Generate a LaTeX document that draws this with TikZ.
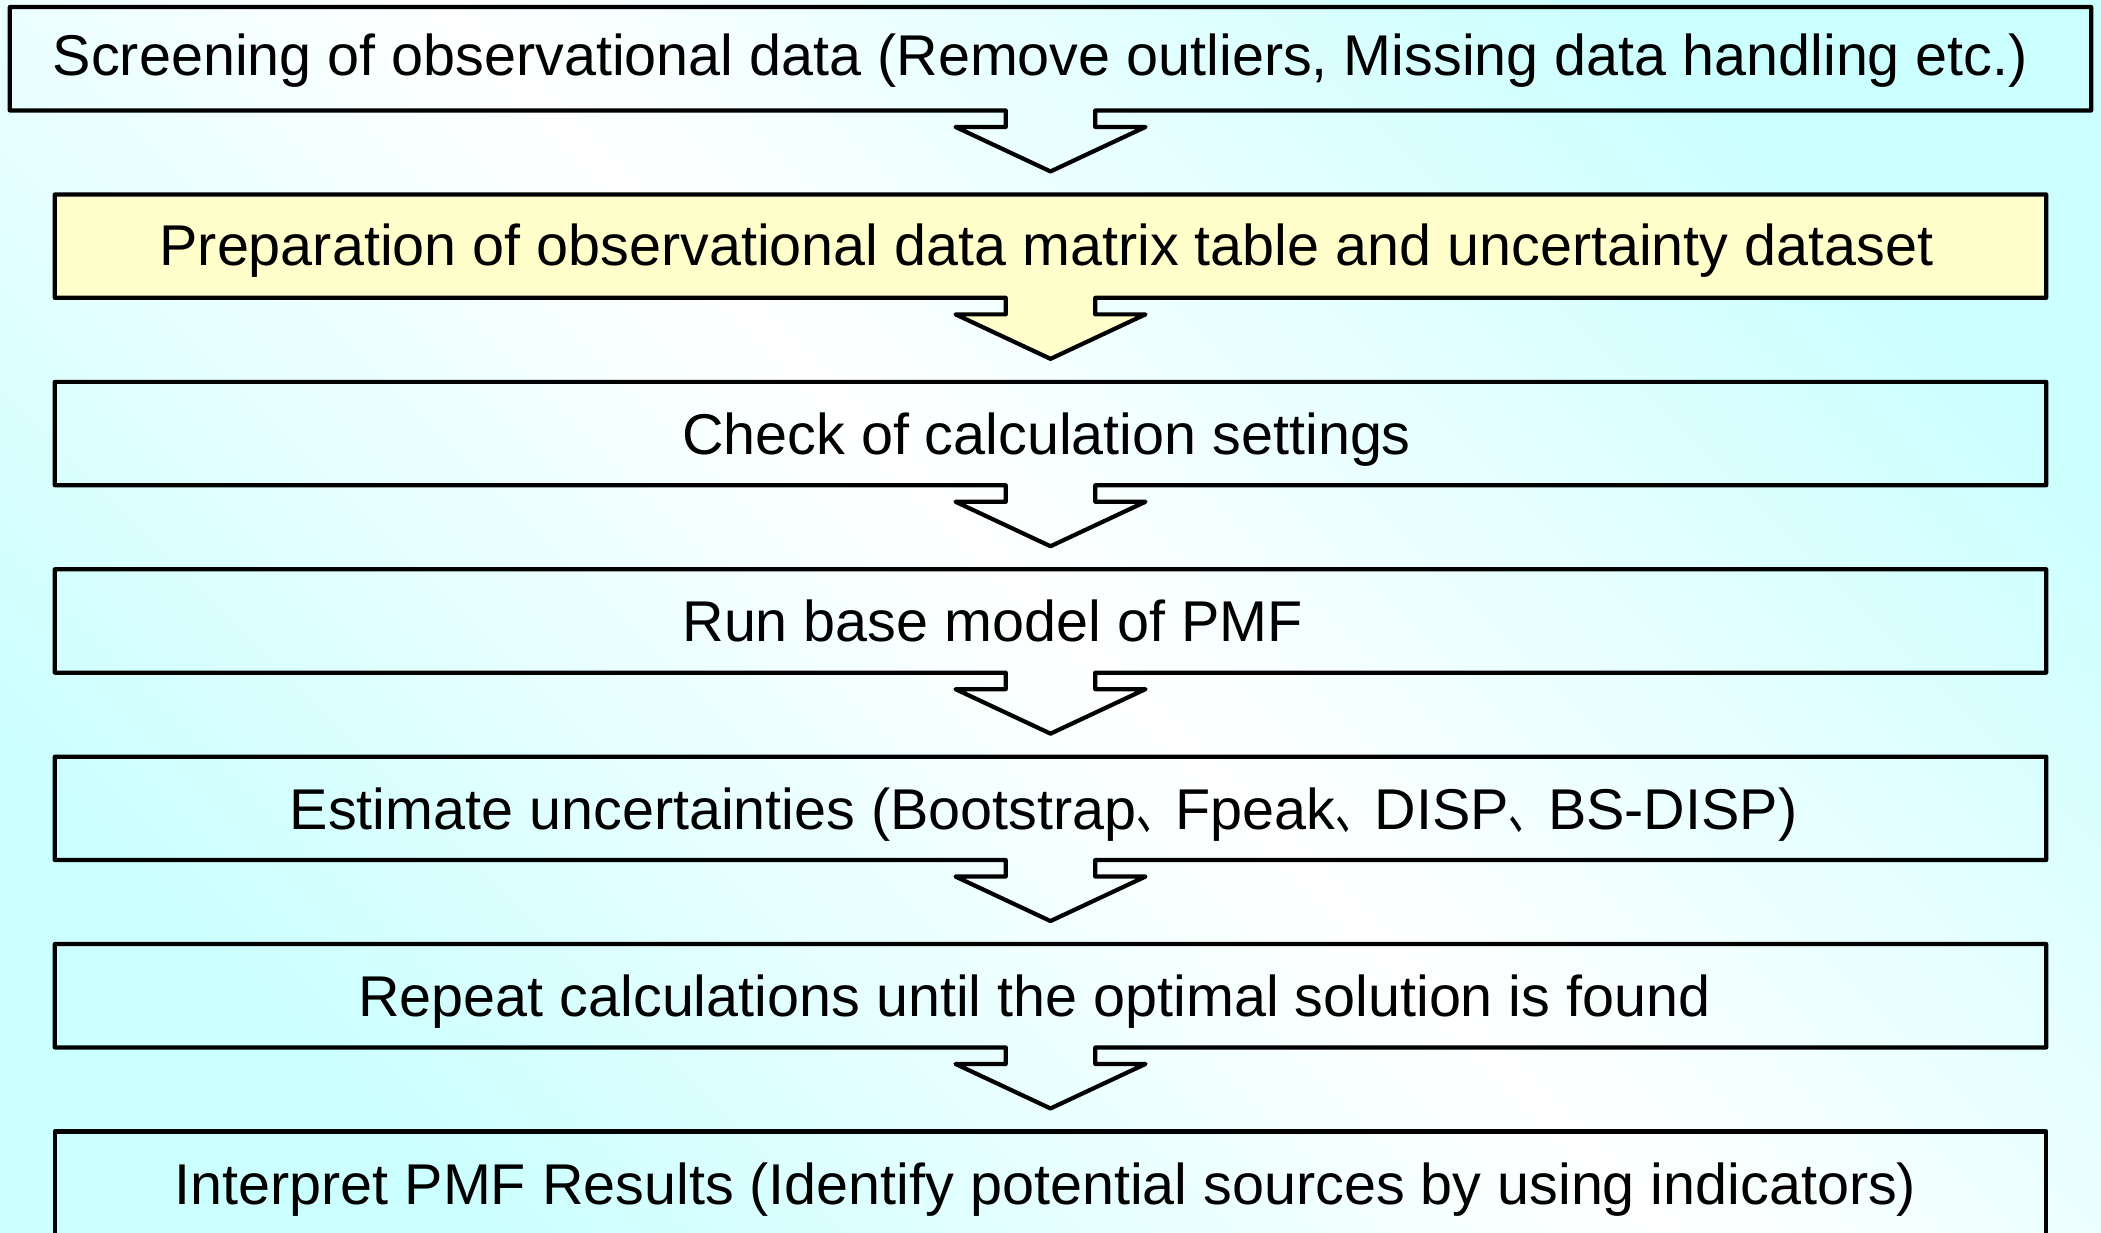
\documentclass[tikz,border=0pt]{standalone}
\usepackage{fontspec}
\usepackage{graphicx}
\setmainfont{Liberation Sans}
\newfontfamily\jpfont{Noto Sans CJK JP}
\usetikzlibrary{positioning,calc,backgrounds}
\definecolor{sky}{HTML}{CCFFFF}
\definecolor{cream}{HTML}{FFFFCC}

\begin{document}
\begin{tikzpicture}[font=\fontsize{57.5}{69}\selectfont,node distance=84pt,
   stepbox/.style={minimum width=1991pt,minimum height=103pt,inner sep=0pt},
   steptext/.style={inner sep=0pt,text height=42pt,text depth=0pt},
   callout/.style={draw=black,line width=4.2pt,line join=round}]
  \useasboundingbox (0,0) rectangle (2101pt,-1233pt);
  \node[stepbox,minimum width=2081pt] (scr) at (1050.5pt,-58.75pt) {};
  \node[stepbox,below=of scr] (prep) {};
  \node[stepbox,below=of prep] (chk) {};
  \node[stepbox,below=of chk] (run) {};
  \node[stepbox,below=of run] (unc) {};
  \node[stepbox,below=of unc] (rep) {};
  \node[stepbox,below=of rep] (res) {};
  \node[steptext,xshift=-10pt,yshift=4pt] (scrtxt) at (scr) {Screening of observational data (Remove outliers, Missing data handling etc.)};
  \node[steptext,xshift=-4pt,yshift=2pt] (preptxt) at (prep) {Preparation of observational data matrix table and uncertainty dataset};
  \node[steptext,xshift=-4pt] (chktxt) at (chk) {Check of calculation settings};
  \node[steptext,xshift=-58pt] (runtxt) at (run) {Run base model of PMF};
  \node[steptext,xshift=-7pt] (unctxt) at (unc) {Estimate uncertainties (Bootstrap\scalebox{0.68}[1]{\jpfont 、}Fpeak\scalebox{0.68}[1]{\jpfont 、}DISP\scalebox{0.68}[1]{\jpfont 、}BS-DISP)};
  \node[steptext,xshift=-16pt] (reptxt) at (rep) {Repeat calculations until the optimal solution is found};
  \node[steptext,xshift=-5pt] (restxt) at (res) {Interpret PMF Results (Identify potential sources by using indicators)};
  \begin{scope}[on background layer]
    \shade[top color=sky,bottom color=sky,middle color=white,shading angle=-45] (0,0) rectangle (2101pt,-1233pt);
    % box with its down arrow, tip just above the next box
    \foreach \a/\b/\c in {scr/prep/none,prep/chk/cream,chk/run/none,run/unc/none,unc/rep/none,rep/res/none}
      \draw[callout,fill=\c] (\a.south west) -- (\a.north west) -- (\a.north east) -- (\a.south east)
        -- ($(\a.south)+(44.75pt,0)$) -- ++(0,-16.5pt) -- ++(50.25pt,0) -- ($(\b.north)+(0,23pt)$)
        -- ($(\a.south)+(-95pt,-16.5pt)$) -- ++(50.25pt,0) -- ($(\a.south)+(-44.75pt,0)$) -- cycle;
    \draw[callout] (res.south west) rectangle (res.north east);
  \end{scope}
\end{tikzpicture}
\end{document}
